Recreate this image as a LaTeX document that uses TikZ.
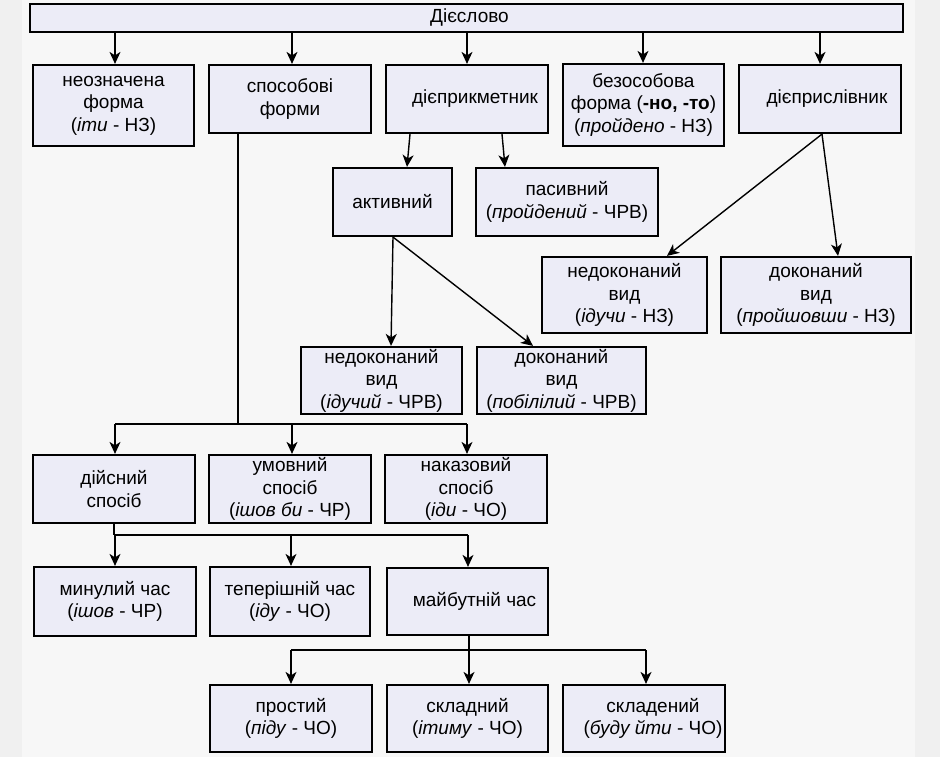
\documentclass[tikz,border=0pt]{standalone}
\usepackage{fontspec}
\setmainfont{Liberation Sans}
\usetikzlibrary{arrows.meta}
\definecolor{boxfill}{RGB}{236,236,247}
\definecolor{bgout}{RGB}{240,240,240}
\definecolor{bgin}{RGB}{247,247,247}
\begin{document}
\begin{tikzpicture}[x=1pt,y=-1pt,
  box/.style={draw=black, line width=2.2pt, fill=boxfill, align=center, inner sep=0pt,
              font=\fontsize{19}{22.5}\selectfont},
  arr/.style={line width=1.4pt, -{Stealth[length=12pt,width=11pt,inset=3.5pt]}},
  ln/.style={line width=1.4pt}]
\fill[bgout] (0,0) rectangle (940,757);
\fill[bgin] (22,0) rectangle (915,757);
\useasboundingbox (0,0) rectangle (940,757);

% top
\node[box, minimum width=873pt, minimum height=28pt] (verb) at (466.5,18) {\hspace*{6pt}Дієслово};
% row 1
\node[box, minimum width=161pt, minimum height=81pt] (neozn) at (113.5,105.5) {неозначена\\форма\\(\textit{іти} - НЗ)};
\node[box, minimum width=162pt, minimum height=68pt] (sposob) at (290,99) {способові\\форми};
\node[box, minimum width=162pt, minimum height=68pt] (dprykm) at (467,99) {\hspace*{16pt}дієприкметник};
\node[box, minimum width=161pt, minimum height=82pt] (bezos) at (643.5,105) {безособова\\форма (\textbf{-но, -то})\\(\textit{пройдено} - НЗ)};
\node[box, minimum width=162pt, minimum height=68pt] (dprysl) at (820,99) {\hspace*{14pt}дієприслівник};
% participle
\node[box, minimum width=119pt, minimum height=68pt] (aktyv) at (392.5,202) {активний};
\node[box, minimum width=182pt, minimum height=68pt] (pasyv) at (567,202) {пасивний\\(\textit{пройдений} - ЧРВ)};
% adverbial participle
\node[box, minimum width=165pt, minimum height=76pt] (nedokNZ) at (624.5,295) {недоконаний\\вид\\(\textit{ідучи} - НЗ)};
\node[box, minimum width=190pt, minimum height=76pt] (dokNZ) at (816,295) {доконаний\\вид\\(\textit{пройшовши} - НЗ)};
% active
\node[box, minimum width=161pt, minimum height=67pt] (nedokCRV) at (381.5,380.5) {недоконаний\\вид\\(\textit{ідучий} - ЧРВ)};
\node[box, minimum width=169pt, minimum height=67pt] (dokCRV) at (561.5,380.5) {доконаний\\вид\\(\textit{побілілий} - ЧРВ)};
% moods
\node[box, minimum width=162pt, minimum height=68pt] (diisn) at (114,489) {дійсний\\спосіб};
\node[box, minimum width=162pt, minimum height=68pt] (umovn) at (290,489) {умовний\\спосіб\\(\textit{ішов би} - ЧР)};
\node[box, minimum width=162pt, minimum height=68pt] (nakaz) at (466,489) {наказовий\\спосіб\\(\textit{іди} - ЧО)};
% tenses
\node[box, minimum width=162pt, minimum height=69pt] (mynul) at (115,601.5) {минулий час\\(\textit{ішов} - ЧР)};
\node[box, minimum width=160pt, minimum height=69pt] (teper) at (290,601.5) {теперішній час\\(\textit{іду} - ЧО)};
\node[box, minimum width=161pt, minimum height=67pt] (maibut) at (467.5,601.5) {\hspace*{14pt}майбутній час};
% future
\node[box, minimum width=162pt, minimum height=67pt] (prost) at (291,718.5) {простий\\(\textit{піду} - ЧО)};
\node[box, minimum width=161pt, minimum height=67pt] (skladn) at (467.5,718.5) {складний\\(\textit{ітиму} - ЧО)};
\node[box, minimum width=162pt, minimum height=67pt] (skladen) at (644,718.5) {\hspace*{18pt}складений\\\hspace*{18pt}(\textit{буду йти} - ЧО)};

% junction coordinates
\coordinate (j1) at (238,424);
\coordinate (j2) at (114,535);
\coordinate (j3) at (469,650);

% top arrows
\draw[arr] (115,0 |- verb.south) -- (115,0 |- neozn.north);
\draw[arr] (292,0 |- verb.south) -- (292,0 |- sposob.north);
\draw[arr] (467,0 |- verb.south) -- (467,0 |- dprykm.north);
\draw[arr] (643,0 |- verb.south) -- (643,0 |- bezos.north);
\draw[arr] (820,0 |- verb.south) -- (820,0 |- dprysl.north);

% participle branches
\draw[arr] (410,0 |- dprykm.south) -- (407,0 |- aktyv.north);
\draw[arr] (502,0 |- dprykm.south) -- (505,0 |- pasyv.north);
\draw[arr] (393,0 |- aktyv.south) -- (391,0 |- nedokCRV.north);
\draw[arr] (393,0 |- aktyv.south) -- (533,0 |- dokCRV.north);

% adverbial participle branches
\draw[arr] (822,0 |- dprysl.south) -- (667,0 |- nedokNZ.north);
\draw[arr] (822,0 |- dprysl.south) -- (838,0 |- dokNZ.north);

% moods
\draw[ln] (j1 |- sposob.south) -- (j1);
\draw[ln] (115,0 |- j1) -- (467,0 |- j1);
\draw[arr] (115,0 |- j1) -- (115,0 |- diisn.north);
\draw[arr] (292,0 |- j1) -- (292,0 |- umovn.north);
\draw[arr] (467,0 |- j1) -- (467,0 |- nakaz.north);

% tenses
\draw[ln] (j2 |- diisn.south) -- (j2);
\draw[ln] (j2) -- (468,0 |- j2);
\draw[arr] (115,0 |- j2) -- (115,0 |- mynul.north);
\draw[arr] (291,0 |- j2) -- (291,0 |- teper.north);
\draw[arr] (468,0 |- j2) -- (468,0 |- maibut.north);

% future
\draw[arr] (j3 |- maibut.south) -- (j3 |- skladn.north);
\draw[ln] (291,0 |- j3) -- (646,0 |- j3);
\draw[arr] (291,0 |- j3) -- (291,0 |- prost.north);
\draw[arr] (646,0 |- j3) -- (646,0 |- skladen.north);
\end{tikzpicture}
\end{document}
